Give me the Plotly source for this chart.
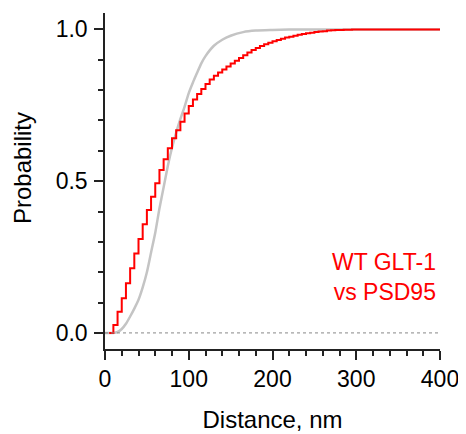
import plotly.graph_objects as go

# Empirical CDF (red step), 5 nm bins
red_x = [5, 10, 15, 20, 25, 30, 35, 40, 45, 50, 55, 60, 65, 70, 75, 80, 85, 90, 95, 100,
         105, 110, 115, 120, 125, 130, 135, 140, 145, 150, 155, 160, 165, 170, 175, 180,
         185, 190, 195, 200, 205, 210, 215, 220, 225, 230, 235, 240, 245, 250, 255, 260,
         265, 270, 275, 280, 285, 290, 295, 300, 310, 320, 330, 340, 350, 360, 370, 380,
         390, 400]
red_y = [0.0, 0.026, 0.070, 0.114, 0.164, 0.213, 0.262, 0.309, 0.358, 0.405, 0.449, 0.493,
         0.537, 0.572, 0.608, 0.641, 0.668, 0.696, 0.723, 0.748, 0.769, 0.787, 0.804, 0.820,
         0.835, 0.847, 0.858, 0.868, 0.878, 0.888, 0.897, 0.906, 0.915, 0.924, 0.932, 0.939,
         0.945, 0.951, 0.956, 0.961, 0.965, 0.969, 0.973, 0.976, 0.979, 0.982, 0.985, 0.987,
         0.989, 0.991, 0.993, 0.994, 0.996, 0.997, 0.998, 0.998, 0.999, 0.999, 1.0, 1.0,
         1.0, 1.0, 1.0, 1.0, 1.0, 1.0, 1.0, 1.0, 1.0, 1.0]

# Smooth reference CDF (grey)
gray_x = [0, 10, 15, 20, 25, 30, 35, 40, 45, 50, 55, 60, 65, 70, 75, 80, 85, 90, 95, 100,
          105, 110, 115, 120, 130, 140, 150, 165, 180, 200, 220, 240, 260, 300, 350, 400]
gray_y = [0.0, 0.0, 0.003, 0.013, 0.030, 0.054, 0.080, 0.109, 0.150, 0.200, 0.265, 0.330,
          0.410, 0.480, 0.550, 0.610, 0.660, 0.705, 0.745, 0.790, 0.825, 0.857, 0.888,
          0.912, 0.946, 0.966, 0.979, 0.991, 0.996, 0.998, 0.9993, 0.9998, 1.0, 1.0, 1.0, 1.0]

x_ticks = [0, 100, 200, 300, 400]
y_ticks = [0.0, 0.5, 1.0]
y_tick_text = ["0.0", "0.5", "1.0"]
label_text = "WT GLT-1<br>vs PSD95"
x_title = "Distance, nm"
y_title = "Probability"

FONT = "Liberation Sans, Arial, sans-serif"
FS = 23
TFS = 24

fig = go.Figure()
fig.add_hline(y=0, line=dict(color="#888888", width=1, dash="dot"))
fig.add_trace(go.Scatter(x=gray_x, y=gray_y, mode="lines",
                         line=dict(color="#c4c4c4", width=2.5, shape="spline", smoothing=0.6),
                         hoverinfo="skip"))
fig.add_trace(go.Scatter(x=red_x, y=red_y, mode="lines",
                         line=dict(color="#ff0000", width=2, shape="hv"),
                         hoverinfo="skip"))

fig.add_annotation(x=400, y=0.184, xref="x", yref="y", text=label_text, showarrow=False,
                   xanchor="right", yanchor="middle", align="right", xshift=-2,
                   font=dict(family=FONT, size=FS, color="#ff0000"))

# y-axis title as rotated annotation (sits slightly above the axis centre)
fig.add_annotation(x=0, y=0.537, xref="paper", yref="paper", text=y_title, showarrow=False,
                   textangle=-90, xanchor="center", yanchor="middle", xshift=-82.5,
                   font=dict(family=FONT, size=TFS, color="black"))

# page body has an 8px margin; compensate in size and margins
fig.update_layout(
    width=458, height=426,
    margin=dict(l=97, r=26, t=5, b=85, autoexpand=False),
    paper_bgcolor="white", plot_bgcolor="white",
    showlegend=False,
    font=dict(family=FONT, size=FS, color="black"),
)
fig.update_xaxes(range=[0, 400], tickvals=x_ticks, showgrid=False, zeroline=False,
                 showline=True, linecolor="#222222", linewidth=1.5,
                 ticks="outside", ticklen=9, tickwidth=1.5, tickcolor="#222222",
                 minor=dict(dtick=20, ticks="outside", ticklen=5, tickwidth=1.5, tickcolor="#222222"),
                 title=dict(text=x_title, standoff=20, font=dict(size=TFS)),
                 tickfont=dict(size=FS))
fig.update_yaxes(range=[-0.053, 1.054], tickvals=y_ticks, ticktext=y_tick_text,
                 showgrid=False, zeroline=False,
                 showline=True, linecolor="#222222", linewidth=1.5,
                 ticks="outside", ticklen=9, tickwidth=1.5, tickcolor="#222222",
                 ticklabelstandoff=2,
                 minor=dict(dtick=0.1, tick0=0, ticks="outside", ticklen=5, tickwidth=1.5, tickcolor="#222222"),
                 tickfont=dict(size=FS))

fig.write_html("out.html")
